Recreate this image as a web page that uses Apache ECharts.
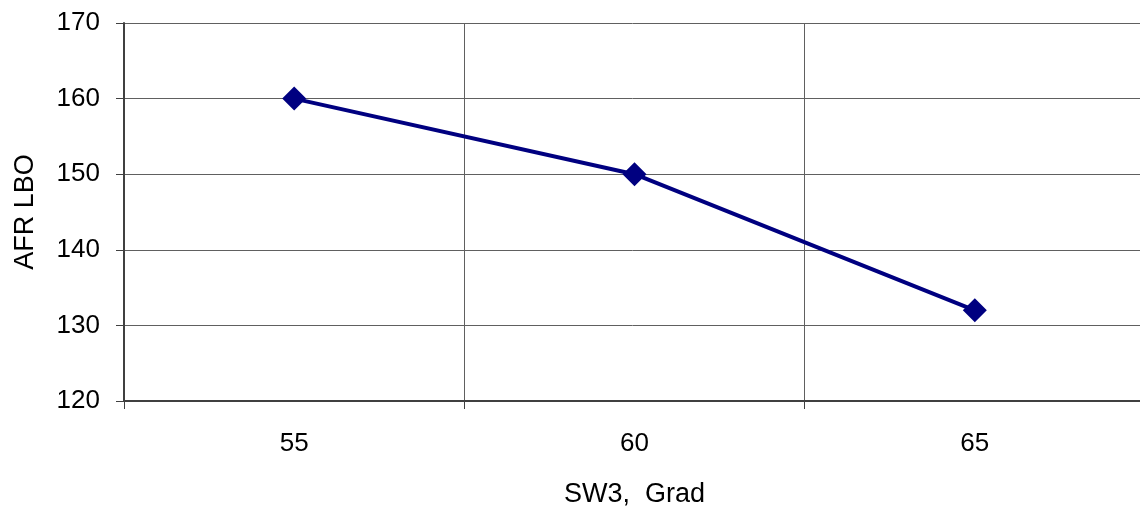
<!DOCTYPE html>
<html>
<head>
<meta charset="utf-8">
<script src="https://cdn.jsdelivr.net/npm/echarts@6/dist/echarts.min.js"></script>
<style>
  html, body { margin: 0; padding: 0; background: #fff; }
  #chart { width: 1140px; height: 508px; }
</style>
</head>
<body>
<div id="chart"></div>
<script>
// SW3 angle categories and AFR at lean blow-out
var categories = ['55', '60', '65'];
var afrLbo = [160, 150, 132];
var yTicks = { min: 120, max: 170, interval: 10 };

var chart = echarts.init(document.getElementById('chart'), null, { renderer: 'canvas' });

var option = {
  animation: false,
  backgroundColor: '#ffffff',
  textStyle: { fontFamily: 'Liberation Sans, Arial, sans-serif' },
  // plot area runs a few px past the right edge of the window
  grid: { left: 124, top: 23, width: 1021, height: 378, containLabel: false, outerBoundsMode: 'none' },
  xAxis: {
    type: 'category',
    data: categories,
    boundaryGap: true,
    name: 'SW3,  Grad',
    nameLocation: 'middle',
    nameGap: 80,
    nameTextStyle: { fontSize: 27, color: '#000' },
    axisLine: { lineStyle: { color: '#404040', width: 2 } },
    axisTick: { show: true, length: 8, lineStyle: { color: '#404040', width: 1 } },
    axisLabel: { fontSize: 26, color: '#000', margin: 30 },
    splitLine: { show: true, lineStyle: { color: '#606060', width: 1 } }
  },
  yAxis: {
    type: 'value',
    min: yTicks.min,
    max: yTicks.max,
    interval: yTicks.interval,
    name: 'AFR LBO',
    nameLocation: 'middle',
    nameGap: 85,
    nameTextStyle: { fontSize: 27, color: '#000' },
    axisLine: { show: true, lineStyle: { color: '#404040', width: 2 } },
    axisTick: { show: true, length: 8, lineStyle: { color: '#404040', width: 1 } },
    axisLabel: { fontSize: 26, color: '#000', margin: 24 },
    splitLine: { show: true, lineStyle: { color: '#606060', width: 1 } }
  },
  series: [{
    type: 'line',
    data: afrLbo,
    symbol: 'diamond',
    symbolSize: 24,
    lineStyle: { color: '#000080', width: 4 },
    itemStyle: { color: '#000080' }
  }]
};

chart.setOption(option);
</script>
</body>
</html>
